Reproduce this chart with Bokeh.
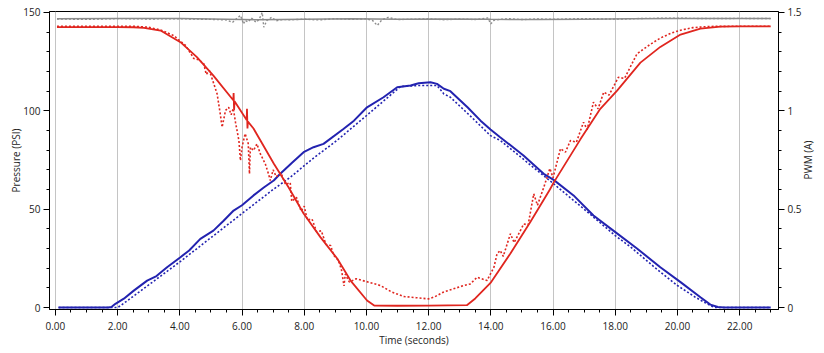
from bokeh.plotting import figure
from bokeh.models import (Range1d, LinearAxis, SingleIntervalTicker, NumeralTickFormatter, Div)
from bokeh.layouts import row
from bokeh.embed import file_html
from bokeh.resources import INLINE

# ---------------- data ----------------
# Supply pressure (PSI) - solid grey
gray_solid_t = [0.05, 2.0, 4.0, 5.5, 6.5, 8.0, 9.5, 11.0, 12.5, 14.0, 15.5, 17.0, 18.5, 20.0, 21.5, 23.0]
gray_solid_v = [146.8, 146.9, 146.9, 146.6, 146.3, 146.6, 146.8, 146.6, 146.7, 146.5, 146.4, 146.6, 146.8, 147.0, 147.0, 146.9]

# Supply pressure (PSI) - dotted grey
gray_dot_t = [0.05, 1.0, 2.0, 3.0, 4.0, 5.0, 5.5, 5.7, 5.8, 5.95, 6.05, 6.1, 6.2, 6.3, 6.45, 6.55, 6.65,
              6.7, 6.8, 6.95, 7.1, 7.3, 7.6, 8.0, 8.5, 9.0, 9.5, 10.0, 10.2, 10.35, 10.5, 10.7, 11.0,
              11.5, 12.0, 12.5, 13.0, 13.5, 13.9, 14.0, 14.1, 14.3, 14.6, 15.0, 15.5, 16.0, 17.0,
              18.0, 19.0, 20.0, 21.0, 22.0, 23.0]
gray_dot_v = [146.7, 146.5, 146.9, 146.7, 146.8, 146.5, 146.2, 145.0, 146.5, 148.5, 144.2, 146.0, 145.2,
              147.2, 145.0, 146.5, 150.0, 142.5, 146.0, 147.5, 145.8, 146.4, 146.3, 146.6, 146.2, 146.9,
              146.5, 146.8, 145.9, 143.4, 146.3, 147.5, 146.4, 146.6, 146.8, 146.3, 146.7, 146.4, 147.2,
              144.2, 146.0, 146.5, 146.8, 146.4, 146.7, 146.5, 146.9, 146.6, 147.0, 147.1, 146.9, 147.0,
              146.9]

# Output pressure (PSI) - solid red
red_solid_t = [0.05, 1.0, 2.0, 2.5, 2.85, 3.38, 4.02, 4.55, 5.08, 5.72, 5.73, 5.745, 5.76, 6.15, 6.16,
               6.175, 6.19, 6.37, 7.02, 7.5, 7.98, 8.52, 9.06, 9.49, 10.02, 10.25, 11.0, 12.0, 13.23,
               13.5, 13.99, 14.63, 15.27, 15.9, 16.02, 16.88, 17.52, 18.06, 18.81, 19.45, 20.1, 20.74,
               21.38, 22.0, 23.0]
red_solid_v = [142.6, 142.6, 142.6, 142.5, 142.2, 140.8, 134.9, 127.3, 117.9, 105.4, 109.0, 100.5,
               104.9, 95.3, 101.0, 91.0, 94.5, 91.0, 73.2, 61.0, 47.8, 35.8, 24.9, 13.7, 3.6, 1.0, 0.9,
               1.0, 1.2, 4.6, 12.5, 27.5, 43.5, 60.0, 63.5, 85.5, 101.0, 110.3, 124.5, 132.5, 138.8,
               141.8, 142.8, 142.9, 142.9]

# Output pressure (PSI) - dotted red
red_dot_t = [0.05, 1.0, 2.0, 2.5, 3.0, 3.4, 3.8, 4.2, 4.45, 4.6, 4.77, 4.85, 4.95, 5.09, 5.2, 5.3, 5.36,
             5.47, 5.57, 5.65, 5.72, 5.79, 5.84, 5.9, 5.95, 6.0, 6.1, 6.2, 6.24, 6.27, 6.37, 6.48, 6.59,
             6.75, 6.85, 6.91, 7.0, 7.1, 7.25, 7.4, 7.55, 7.6, 7.75, 7.9, 8.0, 8.1, 8.25, 8.4, 8.55,
             8.7, 8.85, 8.95, 9.1, 9.2, 9.28, 9.32, 9.45, 9.67, 10.0, 10.45, 10.8, 11.2, 11.6, 12.0,
             12.2, 12.47, 12.8, 13.13, 13.34, 13.56, 13.88, 14.1, 14.2, 14.3, 14.4, 14.63, 14.75,
             15.06, 15.2, 15.38, 15.5, 15.7, 15.9, 16.0, 16.24, 16.4, 16.56, 16.75, 16.98, 17.1,
             17.3, 17.45, 17.63, 17.8, 18.1, 18.3, 18.7, 19.1, 19.45, 19.8, 20.1, 20.5, 21.0, 22.0,
             23.0]
red_dot_v = [143.0, 143.0, 143.0, 143.0, 142.5, 141.0, 138.3, 133.0, 126.6, 126.0, 124.0, 118.5, 120.5,
             113.9, 108.6, 98.5, 91.7, 100.2, 101.8, 98.0, 101.2, 94.2, 90.0, 84.9, 74.7, 81.5, 88.4,
             83.4, 68.0, 81.5, 79.8, 83.2, 78.1, 73.0, 68.0, 64.6, 70.0, 66.5, 68.5, 62.5, 63.5, 54.0,
             56.0, 49.0, 51.5, 44.5, 45.0, 38.5, 39.0, 32.0, 31.5, 26.5, 24.0, 19.0, 11.0, 17.0, 13.0,
             14.6, 13.2, 11.2, 8.0, 5.6, 5.0, 4.4, 5.5, 7.8, 9.5, 11.2, 12.0, 15.4, 13.7, 20.5, 27.3,
             29.0, 26.0, 37.5, 33.0, 42.5, 42.0, 57.8, 52.0, 61.0, 70.7, 66.0, 80.8, 79.0, 84.9, 84.0,
             94.2, 90.5, 104.4, 101.0, 109.5, 108.0, 117.0, 116.5, 129.0, 133.5, 137.0, 139.5, 141.0,
             142.3, 142.9, 143.0, 143.0]

# PWM current (A) - solid blue
blue_solid_t = [0.1, 1.0, 1.7, 1.8, 1.93, 2.2, 2.52, 2.95, 3.25, 3.59, 4.02, 4.3, 4.66, 5.08, 5.4,
                5.73, 6.0, 6.37, 6.7, 7.02, 7.23, 7.6, 7.98, 8.3, 8.62, 9.26, 9.6, 10.02, 10.55,
                10.99, 11.42, 11.68, 12.06, 12.27, 12.49, 12.7, 13.25, 13.67, 13.99, 14.3, 15.05,
                15.7, 16.02, 16.66, 17.3, 17.94, 18.7, 19.45, 20.1, 20.74, 21.06, 21.3, 21.5, 23.0]
blue_solid_v = [0.0, 0.0, 0.0, 0.003, 0.019, 0.045, 0.086, 0.137, 0.16, 0.205, 0.256, 0.29, 0.349,
                0.391, 0.44, 0.493, 0.52, 0.57, 0.61, 0.646, 0.68, 0.735, 0.79, 0.815, 0.832, 0.908,
                0.95, 1.018, 1.069, 1.12, 1.129, 1.14, 1.145, 1.137, 1.112, 1.10, 1.018, 0.95, 0.905,
                0.866, 0.773, 0.68, 0.649, 0.57, 0.468, 0.391, 0.30, 0.205, 0.129, 0.052, 0.015,
                0.003, 0.0, 0.0]

# PWM current (A) - dotted blue
blue_dot_t = [0.1, 1.0, 2.0, 2.1, 3.0, 4.0, 5.0, 6.0, 7.0, 7.55, 8.3, 9.05, 10.13, 11.1, 11.74, 12.27,
              12.49, 12.7, 13.3, 13.99, 14.31, 15.0, 16.02, 17.0, 18.0, 18.5, 19.3, 20.0, 20.6, 21.06,
              21.2, 23.0]
blue_dot_v = [0.0, 0.0, 0.0, 0.01, 0.115, 0.232, 0.355, 0.478, 0.60, 0.662, 0.76, 0.849, 0.993, 1.124,
              1.129, 1.129, 1.086, 1.069, 0.98, 0.874, 0.849, 0.76, 0.629, 0.50, 0.366, 0.307, 0.2,
              0.112, 0.05, 0.01, 0.0, 0.0]

x_label = "Time (seconds)"
y_left_label = "Pressure (PSI)"
y_right_label = "PWM (A)"

# ---------------- styling ----------------
FONT = "Open Sans"
FS = "10px"
RED = "#e0261f"
BLUE = "#2323b0"
GRAY = "#8c8c8c"

p = figure(width=812, height=353, output_backend="svg", toolbar_location=None,
           x_range=Range1d(-0.19, 23.25), y_range=Range1d(-1.0, 150.5),
           min_border_left=49, min_border_right=34, min_border_top=11, min_border_bottom=44)
p.extra_y_ranges = {"pwm": Range1d(-0.01, 1.505)}
p.background_fill_color = "white"
p.border_fill_color = "white"
p.outline_line_color = "#000000"
p.outline_line_width = 1

# grey supply lines
p.line(gray_solid_t, gray_solid_v, line_color=GRAY, line_width=1.5)
p.line(gray_dot_t, gray_dot_v, line_color=GRAY, line_width=1.4, line_dash="2 2")

# blue PWM lines
p.line(blue_dot_t, blue_dot_v, line_color=BLUE, line_width=1.6, line_dash="2 2", y_range_name="pwm")
p.line(blue_solid_t, blue_solid_v, line_color=BLUE, line_width=2, y_range_name="pwm")

# red pressure lines
p.line(red_dot_t, red_dot_v, line_color=RED, line_width=1.6, line_dash="2 2")
p.line(red_solid_t, red_solid_v, line_color=RED, line_width=1.8)

# ---------------- axes ----------------
def style_axis(ax):
    ax.axis_line_color = "#000000"
    ax.axis_line_width = 1
    ax.major_tick_line_color = "#000000"
    ax.minor_tick_line_color = "#000000"
    ax.major_tick_in = 0
    ax.major_tick_out = 6
    ax.minor_tick_in = 0
    ax.minor_tick_out = 3
    ax.major_label_text_font = FONT
    ax.major_label_text_font_size = FS
    ax.major_label_text_color = "#222222"
    ax.axis_label_text_font = FONT
    ax.axis_label_text_font_size = FS
    ax.axis_label_text_font_style = "normal"
    ax.axis_label_text_color = "#222222"
    ax.major_label_standoff = 3
    ax.axis_label_standoff = 2

xa = p.xaxis[0]
xa.ticker = SingleIntervalTicker(interval=2, num_minor_ticks=4)
xa.formatter = NumeralTickFormatter(format="0.00")
xa.axis_label = x_label
style_axis(xa)
xa.major_label_standoff = 6
xa.axis_label_standoff = 0

ya = p.yaxis[0]
ya.ticker = SingleIntervalTicker(interval=50, num_minor_ticks=5)
ya.axis_label = y_left_label
style_axis(ya)
ya.axis_label_standoff = -3

ra = LinearAxis(y_range_name="pwm", ticker=SingleIntervalTicker(interval=0.5, num_minor_ticks=5),
                formatter=NumeralTickFormatter(format="0.[0]"))
style_axis(ra)
p.add_layout(ra, "right")

# ---------------- grid ----------------
p.xgrid.grid_line_color = "#c4c4c4"
p.xgrid.grid_line_width = 1
p.ygrid.grid_line_color = None

# right-hand axis title, reading bottom-to-top like the left one
side = Div(
    text=('<div style="position:relative;width:12px;height:353px;overflow:visible;">'
          '<span style="position:absolute;left:-4px;top:160px;'
          'transform:translate(-50%,-50%) rotate(-90deg);white-space:nowrap;'
          'font-family:\'Open Sans\';font-size:10px;color:#222222;">'
          + y_right_label + '</span></div>'),
    width=12, height=353, margin=(0, 0, 0, 0), styles={"overflow": "visible"})

layout = row(p, side, spacing=0)

open("out.html", "w").write(file_html(layout, INLINE))
